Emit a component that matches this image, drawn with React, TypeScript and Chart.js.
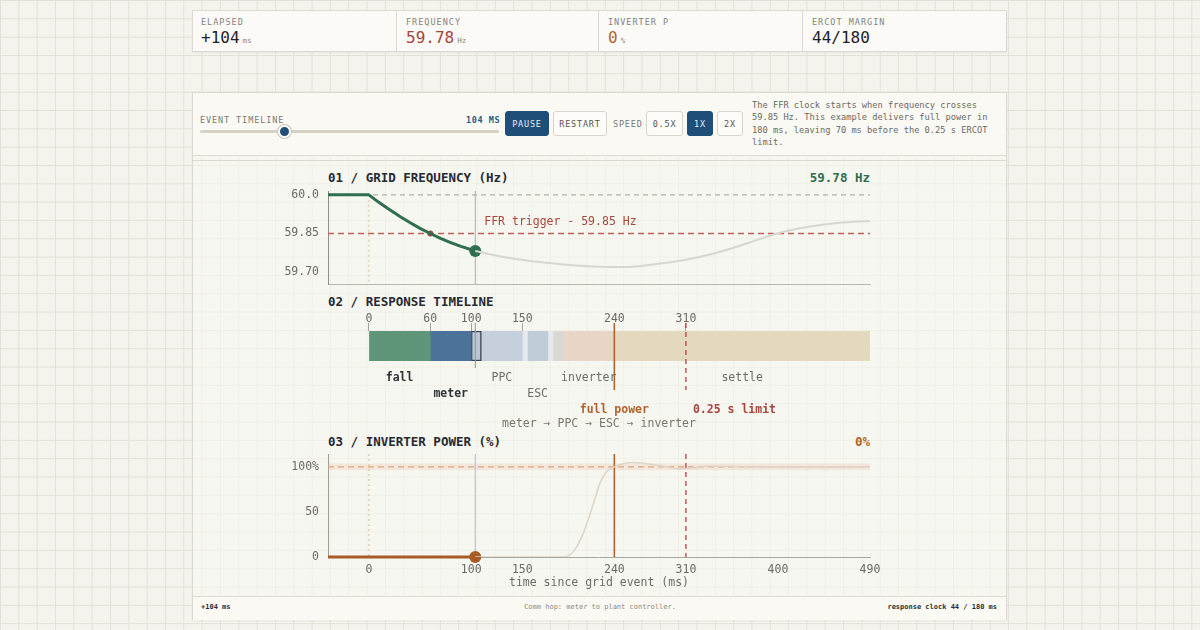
import React, { useEffect, useRef } from "react";
import { Chart, registerables } from "chart.js";

Chart.register(...registerables);

const MONO = '"DejaVu Sans Mono", "Liberation Mono", monospace';
Chart.defaults.font.family = MONO;

// ---------------- data ----------------
const T_MIN = -40;
const T_MAX = 490;
const EVENT_T = 0;
const NOW_T = 104;
const TRIGGER_T = 60;
const FULL_POWER_T = 240;
const LIMIT_T = 310;

// frequency (Hz)
const FREQ_PAST_T = [-40, 0, 10, 20, 30, 40, 50, 60, 70, 80, 90, 104];
const FREQ_PAST_HZ = [60.0, 60.0, 59.970, 59.943, 59.917, 59.893, 59.870, 59.850, 59.831, 59.815, 59.800, 59.782];
const FREQ_FUT_T = [104, 130, 160, 190, 220, 250, 280, 310, 340, 370, 400, 430, 460, 490];
const FREQ_FUT_HZ = [59.782, 59.760, 59.742, 59.730, 59.722, 59.720, 59.731, 59.748, 59.775, 59.812, 59.851, 59.876, 59.892, 59.899];
const NOMINAL_HZ = 60.0;
const TRIGGER_HZ = 59.85;
const FREQ_MIN = 59.654;
const FREQ_MAX = 60.015;
const FREQ_TICKS = [59.7, 59.85, 60.0];
const FREQ_TICK_LABELS = ["59.70", "59.85", "60.0"];

// response timeline segments (ms)
const SEG_START = [0, 60, 100, 110, 150, 155, 175, 180, 190, 240];
const SEG_END = [60, 100, 110, 150, 155, 175, 180, 190, 240, 490];
const SEG_LABEL = ["fall", "meter", "", "PPC", "", "ESC", "", "", "inverter", "settle"];
const SEG_ROW = [0, 1, 0, 0, 0, 1, 0, 0, 0, 0];
const SEG_DONE = [true, true, false, false, false, false, false, false, false, false];
const SEG_COLOR = ["#5f9679", "#4c7299", "#b9c6d3", "#c5d0dc", "#e6e9ec", "#c0cdd8", "#e7e9ea", "#d9d8d5", "#e9d6c6", "#e4d8be"];
const ACTIVE_SEG = 2;
const TIMELINE_TICKS = [0, 60, 100, 150, 240, 310];
const FLOW_TEXT = "meter \u2192 PPC \u2192 ESC \u2192 inverter";

// inverter power (%)
const POWER_PAST_T = [-40, 104];
const POWER_PAST_PCT = [0, 0];
const POWER_FUT_T = [104, 150, 190, 196, 202, 208, 214, 220, 226, 232, 240, 250, 258, 268, 280, 291, 304, 315, 333, 350, 380, 430, 490];
const POWER_FUT_PCT = [0, 0, 0, 2, 9, 22, 40, 61, 82, 94, 100, 103.8, 104.8, 104, 102, 100, 97.8, 98.6, 101, 100.6, 100, 100, 100];
const POWER_MIN = 0;
const POWER_MAX = 114.3;
const POWER_TICKS = [0, 50, 100];
const POWER_TICK_LABELS = ["0", "50", "100%"];
const TIME_TICKS = [0, 100, 150, 240, 310, 400, 490];
const TARGET_PCT = 100;
const BAND_LO = 96.3;
const BAND_HI = 103.7;

// ---------------- colours ----------------
const GREEN = "#2f6e4e";
const RED = "#a8453d";
const ORANGE = "#b0642c";
const NAVY = "#1f4e79";
const TICK = "#6b6a65";

const pts = (xs: number[], ys: number[]) => xs.map((x, i) => ({ x, y: ys[i] }));

function vline(ctx: CanvasRenderingContext2D, x: number, y1: number, y2: number, color: string, width: number, dash: number[] = []) {
  ctx.save();
  ctx.strokeStyle = color;
  ctx.lineWidth = width;
  ctx.setLineDash(dash);
  ctx.beginPath();
  ctx.moveTo(x, y1);
  ctx.lineTo(x, y2);
  ctx.stroke();
  ctx.restore();
}
function hline(ctx: CanvasRenderingContext2D, x1: number, x2: number, y: number, color: string, width: number, dash: number[] = []) {
  ctx.save();
  ctx.strokeStyle = color;
  ctx.lineWidth = width;
  ctx.setLineDash(dash);
  ctx.beginPath();
  ctx.moveTo(x1, y);
  ctx.lineTo(x2, y);
  ctx.stroke();
  ctx.restore();
}
function text(ctx: CanvasRenderingContext2D, s: string, x: number, y: number, color: string, size: number, align: CanvasTextAlign = "left", weight = "normal") {
  ctx.save();
  ctx.fillStyle = color;
  ctx.font = `${weight} ${size}px ${MONO}`;
  ctx.textAlign = align;
  ctx.textBaseline = "middle";
  ctx.fillText(s, x, y);
  ctx.restore();
}

const zeroPad = (s: any) => {
  s.paddingTop = 0;
  s.paddingBottom = 0;
  s.paddingLeft = 0;
  s.paddingRight = 0;
};

const baseOptions = {
  responsive: false,
  animation: false as const,
  events: [] as any[],
  plugins: { legend: { display: false }, tooltip: { enabled: false } },
};

// ---------------- chart configs ----------------
function freqConfig(): any {
  const plugin = {
    id: "freqRefs",
    beforeDatasetsDraw(chart: any) {
      const { ctx, chartArea: a, scales } = chart;
      const x = scales.x, y = scales.y;
      hline(ctx, a.left, a.right, y.getPixelForValue(NOMINAL_HZ), "#b4b2aa", 1.2, [5, 4]);
      hline(ctx, a.left, a.right, y.getPixelForValue(TRIGGER_HZ), "#c0625a", 1.3, [6, 4]);
      vline(ctx, x.getPixelForValue(EVENT_T), y.getPixelForValue(NOMINAL_HZ), a.bottom, "#dcc8a2", 1.2, [2, 3]);
      vline(ctx, x.getPixelForValue(NOW_T), a.top, a.bottom, "#a7adb4", 1);
    },
    afterDatasetsDraw(chart: any) {
      const { ctx, scales } = chart;
      text(ctx, "FFR trigger - 59.85 Hz", scales.x.getPixelForValue(NOW_T) + 9, scales.y.getPixelForValue(TRIGGER_HZ) - 11, RED, 11.5);
    },
  };
  return {
    type: "line",
    data: {
      datasets: [
        { data: pts(FREQ_FUT_T, FREQ_FUT_HZ), borderColor: "#d6d7d1", borderWidth: 2, pointRadius: 0, cubicInterpolationMode: "monotone" },
        { data: pts(FREQ_PAST_T, FREQ_PAST_HZ), borderColor: GREEN, borderWidth: 3, pointRadius: 0, tension: 0, borderJoinStyle: "round", clip: false },
        { data: [{ x: TRIGGER_T, y: TRIGGER_HZ }], showLine: false, pointRadius: 3, pointBorderWidth: 0, pointBackgroundColor: RED },
        { data: [{ x: NOW_T, y: FREQ_PAST_HZ[FREQ_PAST_HZ.length - 1] }], showLine: false, pointRadius: 6, pointBorderWidth: 0, pointBackgroundColor: GREEN, clip: false },
      ],
    },
    options: {
      ...baseOptions,
      layout: { padding: { left: 0, right: 20, top: 5, bottom: 0 } },
      scales: {
        x: {
          type: "linear", min: T_MIN, max: T_MAX,
          grid: { display: false, drawTicks: false },
          border: { display: true, color: "#b8b6ad", width: 1 },
          ticks: { display: false },
          afterFit: (s: any) => { s.height = 6; zeroPad(s); },
        },
        y: {
          type: "linear", min: FREQ_MIN, max: FREQ_MAX,
          grid: { display: false, drawTicks: false },
          border: { display: true, color: "#8f8e88", width: 1 },
          afterBuildTicks: (s: any) => { s.ticks = FREQ_TICKS.map((v) => ({ value: v })); },
          ticks: { callback: (_v: any, i: number) => FREQ_TICK_LABELS[i], color: TICK, font: { size: 11.5 }, padding: 9 },
          afterFit: (s: any) => { s.width = 58; zeroPad(s); },
        },
      },
    },
    plugins: [plugin],
  };
}

function timelineConfig(): any {
  const plugin = {
    id: "timelineRefs",
    afterDatasetsDraw(chart: any) {
      const { ctx, chartArea: a, scales } = chart;
      const x = scales.x;
      const top = a.top - 8;
      vline(ctx, x.getPixelForValue(NOW_T), top, a.bottom + 7, "#8d949c", 1);
      vline(ctx, x.getPixelForValue(FULL_POWER_T), top, a.bottom + 29, ORANGE, 1.6);
      vline(ctx, x.getPixelForValue(LIMIT_T), top, a.bottom + 29, "#b0463d", 1.3, [5, 4]);
      SEG_LABEL.forEach((lab, i) => {
        if (!lab) return;
        const cx = x.getPixelForValue((SEG_START[i] + SEG_END[i]) / 2);
        const cy = a.bottom + 17 + SEG_ROW[i] * 16;
        text(ctx, lab, cx, cy, SEG_DONE[i] ? "#2f3338" : "#6d6c67", 11.5, "center", SEG_DONE[i] ? "bold" : "normal");
      });
      text(ctx, "full power", x.getPixelForValue(FULL_POWER_T), a.bottom + 49, ORANGE, 11.5, "center", "bold");
      text(ctx, "0.25 s limit", x.getPixelForValue(LIMIT_T) + 7, a.bottom + 49, RED, 11.5, "left", "bold");
      text(ctx, FLOW_TEXT, (a.left + a.right) / 2, a.bottom + 63, "#77766f", 11.5, "center");
    },
  };
  return {
    type: "bar",
    data: {
      labels: ["timeline"],
      datasets: SEG_START.map((s, i) => ({
        data: [[s, SEG_END[i]]],
        backgroundColor: SEG_COLOR[i],
        borderColor: i === ACTIVE_SEG ? "#3a4451" : "rgba(0,0,0,0)",
        borderWidth: i === ACTIVE_SEG ? 1.5 : 0,
        borderSkipped: false,
        grouped: false,
        barPercentage: 1,
        categoryPercentage: 1,
      })),
    },
    options: {
      ...baseOptions,
      indexAxis: "y",
      layout: { padding: { left: 58, right: 20, top: 0, bottom: 69 } },
      scales: {
        x: {
          type: "linear", position: "top", min: T_MIN, max: T_MAX,
          grid: { display: true, drawOnChartArea: false, drawTicks: true, tickLength: 8, color: "#a5a39b", lineWidth: 1 },
          border: { display: false },
          afterBuildTicks: (s: any) => { s.ticks = TIMELINE_TICKS.map((v) => ({ value: v })); },
          ticks: { autoSkip: false, maxRotation: 0, color: TICK, font: { size: 11.5 }, padding: -3, callback: (v: any) => String(v) },
          afterFit: (s: any) => { s.height = 26; zeroPad(s); },
        },
        y: { display: false },
      },
    },
    plugins: [plugin],
  };
}

function powerConfig(): any {
  const plugin = {
    id: "powerRefs",
    beforeDatasetsDraw(chart: any) {
      const { ctx, chartArea: a, scales } = chart;
      const x = scales.x, y = scales.y;
      ctx.save();
      ctx.fillStyle = "rgba(232,180,140,0.22)";
      const yt = y.getPixelForValue(BAND_HI), yb = y.getPixelForValue(BAND_LO);
      ctx.fillRect(a.left, yt, a.right - a.left, yb - yt);
      ctx.restore();
      hline(ctx, a.left, a.right, y.getPixelForValue(TARGET_PCT), "#dba47c", 1.2, [6, 4]);
      vline(ctx, x.getPixelForValue(EVENT_T), a.top, a.bottom, "#dcc8a2", 1.2, [2, 3]);
      vline(ctx, x.getPixelForValue(NOW_T), a.top, a.bottom, "#b9c4d0", 1.2);
      vline(ctx, x.getPixelForValue(FULL_POWER_T), a.top, a.bottom, ORANGE, 1.6);
      vline(ctx, x.getPixelForValue(LIMIT_T), a.top, a.bottom, "#b0463d", 1.3, [5, 4]);
    },
  };
  return {
    type: "line",
    data: {
      datasets: [
        { data: pts(POWER_FUT_T, POWER_FUT_PCT), borderColor: "#e0d5c7", borderWidth: 1.6, pointRadius: 0, cubicInterpolationMode: "monotone" },
        { data: pts(POWER_PAST_T, POWER_PAST_PCT), borderColor: "#a85b27", borderWidth: 3, pointRadius: 0, clip: false },
        { data: [{ x: NOW_T, y: POWER_PAST_PCT[POWER_PAST_PCT.length - 1] }], showLine: false, pointRadius: 6, pointBorderWidth: 0, pointBackgroundColor: "#a85b27", clip: false },
      ],
    },
    options: {
      ...baseOptions,
      layout: { padding: { left: 0, right: 20, top: 5, bottom: 0 } },
      scales: {
        x: {
          type: "linear", min: T_MIN, max: T_MAX,
          grid: { display: false, drawTicks: false },
          border: { display: true, color: "#a8a69e", width: 1 },
          afterBuildTicks: (s: any) => { s.ticks = TIME_TICKS.map((v) => ({ value: v })); },
          ticks: { autoSkip: false, maxRotation: 0, color: TICK, font: { size: 11.5 }, padding: 6, callback: (v: any) => String(v) },
          title: { display: true, text: "time since grid event (ms)", color: "#6d6c67", font: { size: 11.5 }, padding: 0 },
          afterFit: (s: any) => { s.height = 33; zeroPad(s); },
        },
        y: {
          type: "linear", min: POWER_MIN, max: POWER_MAX,
          grid: { display: false, drawTicks: false },
          border: { display: true, color: "#a39c92", width: 1 },
          afterBuildTicks: (s: any) => { s.ticks = POWER_TICKS.map((v) => ({ value: v })); },
          ticks: { callback: (_v: any, i: number) => POWER_TICK_LABELS[i], color: TICK, font: { size: 11.5 }, padding: 9 },
          afterFit: (s: any) => { s.width = 58; zeroPad(s); },
        },
      },
    },
    plugins: [plugin],
  };
}

// ---------------- components ----------------
function ChartCanvas({ left, top, width, height, make }: { left: number; top: number; width: number; height: number; make: () => any }) {
  const ref = useRef<HTMLCanvasElement | null>(null);
  useEffect(() => {
    if (!ref.current) return;
    const chart = new Chart(ref.current, make());
    return () => chart.destroy();
  }, []);
  return (
    <canvas
      ref={ref}
      width={width}
      height={height}
      style={{ position: "absolute", left, top, width, height }}
    />
  );
}

const abs = (left: number, top: number, extra: React.CSSProperties = {}): React.CSSProperties => ({
  position: "absolute",
  left,
  top,
  ...extra,
});

const STATS = [
  { label: "ELAPSED", value: "+104", unit: "ms", color: "#1f2227" },
  { label: "FREQUENCY", value: "59.78", unit: "Hz", color: "#a8453d" },
  { label: "INVERTER P", value: "0", unit: "%", color: "#b0642c" },
  { label: "ERCOT MARGIN", value: "44/180", unit: "", color: "#1f2227" },
];
const STAT_LEFT = [192, 396, 598, 802];
const STAT_WIDTH = [204, 202, 204, 205];

function Button({ left, width, label, active }: { left: number; width: number; label: string; active?: boolean }) {
  return (
    <div
      style={abs(left, 111, {
        width,
        height: 25,
        boxSizing: "border-box",
        border: active ? `1px solid ${NAVY}` : "1px solid #d8d6cc",
        background: active ? NAVY : "#fdfcf8",
        color: active ? "#e8eef5" : "#55544f",
        borderRadius: 3,
        fontSize: 8.5,
        letterSpacing: 0.8,
        display: "flex",
        alignItems: "center",
        justifyContent: "center",
      })}
    >
      {label}
    </div>
  );
}

export default function App() {
  const titleStyle: React.CSSProperties = { fontSize: 12.5, fontWeight: "bold", color: "#262a30", lineHeight: "16px", whiteSpace: "nowrap" };
  return (
    <div
      style={{
        position: "absolute",
        left: 0,
        top: 0,
        width: 1200,
        height: 630,
        overflow: "hidden",
        fontFamily: MONO,
        backgroundColor: "#f4f3ed",
        backgroundImage:
          "linear-gradient(to right, #e3e1d7 1px, transparent 1px), linear-gradient(to bottom, #e3e1d7 1px, transparent 1px)",
        backgroundSize: "18.33px 18.33px",
      }}
    >
      {/* stat cards */}
      <div style={abs(192, 10, { width: 815, height: 42, boxSizing: "border-box", border: "1px solid #dcdad0", background: "#fbfaf6", boxShadow: "0 1px 2px rgba(0,0,0,0.05)" })} />
      {STATS.map((s, i) => (
        <div key={s.label} style={abs(STAT_LEFT[i], 10, { width: STAT_WIDTH[i], height: 42, boxSizing: "border-box", borderLeft: i ? "1px solid #dcdad0" : "none" })}>
          <div style={abs(9, 6, { fontSize: 8.5, letterSpacing: 1, color: "#85847d", lineHeight: "12px" })}>{s.label}</div>
          <div style={abs(9, 18, { whiteSpace: "nowrap", lineHeight: "20px" })}>
            <span style={{ fontSize: 16, color: s.color }}>{s.value}</span>
            {s.unit ? <span style={{ fontSize: 7.5, color: "#8a8983", marginLeft: 3 }}>{s.unit}</span> : null}
          </div>
        </div>
      ))}

      {/* main panel */}
      <div style={abs(192, 92, { width: 815, height: 528, boxSizing: "border-box", border: "1px solid #dcdad0", background: "rgba(250,249,244,0.55)", boxShadow: "0 1px 2px rgba(0,0,0,0.05)" })} />
      <div style={abs(193, 93, { width: 813, height: 62, background: "#faf9f4", borderBottom: "1px solid #dcdad0" })} />
      <div style={abs(193, 160, { width: 813, height: 0, borderTop: "1px solid #dcdad0" })} />

      {/* controls */}
      <div style={abs(200, 114, { fontSize: 8.5, letterSpacing: 0.9, color: "#7b7a73", lineHeight: "12px" })}>EVENT TIMELINE</div>
      <div style={abs(466, 114, { fontSize: 8.5, letterSpacing: 0.6, color: "#2b5b87", fontWeight: "bold", lineHeight: "12px" })}>104 MS</div>
      <div style={abs(200, 130, { width: 299, height: 3, background: "#d5d2c3", borderRadius: 2 })} />
      <div style={abs(278, 125, { width: 9, height: 9, borderRadius: "50%", background: NAVY, border: "2px solid #fbfaf6", boxShadow: "0 0 0 1px #c9c7bd" })} />
      <Button left={505} width={44} label="PAUSE" active />
      <Button left={553} width={54} label="RESTART" />
      <div style={abs(613, 118, { fontSize: 8.5, letterSpacing: 0.8, color: "#7b7a73", lineHeight: "12px" })}>SPEED</div>
      <Button left={646} width={37} label="0.5X" />
      <Button left={687} width={26} label="1X" active />
      <Button left={717} width={26} label="2X" />
      <div style={abs(752, 99, { fontSize: 8.7, color: "#6a6964", lineHeight: "12.3px", whiteSpace: "nowrap" })}>
        The FFR clock starts when frequency crosses<br />
        59.85 Hz. This example delivers full power in<br />
        180 ms, leaving 70 ms before the 0.25 s ERCOT<br />
        limit.
      </div>

      {/* panel titles */}
      <div style={abs(328, 170, titleStyle)}>01 / GRID FREQUENCY (Hz)</div>
      <div style={abs(770, 170, { ...titleStyle, width: 100, textAlign: "right", color: GREEN })}>59.78 Hz</div>
      <div style={abs(328, 294, titleStyle)}>02 / RESPONSE TIMELINE</div>
      <div style={abs(328, 434, titleStyle)}>03 / INVERTER POWER (%)</div>
      <div style={abs(770, 434, { ...titleStyle, width: 100, textAlign: "right", color: ORANGE })}>0%</div>

      <ChartCanvas left={270} top={185} width={620} height={105} make={freqConfig} />
      <ChartCanvas left={270} top={305} width={620} height={125} make={timelineConfig} />
      <ChartCanvas left={270} top={448} width={620} height={142} make={powerConfig} />

      {/* footer */}
      <div style={abs(193, 596, { width: 813, height: 23, background: "#faf9f4", borderTop: "1px solid #dcdad0" })} />
      <div style={abs(201, 602, { fontSize: 7, fontWeight: "bold", color: "#2c2f33", lineHeight: "10px" })}>+104 ms</div>
      <div style={abs(400, 602, { width: 400, textAlign: "center", fontSize: 7, color: "#8a8983", lineHeight: "10px" })}>Comm hop: meter to plant controller.</div>
      <div style={abs(797, 602, { width: 200, textAlign: "right", fontSize: 7, fontWeight: "bold", color: "#2c2f33", lineHeight: "10px" })}>response clock 44 / 180 ms</div>
    </div>
  );
}
